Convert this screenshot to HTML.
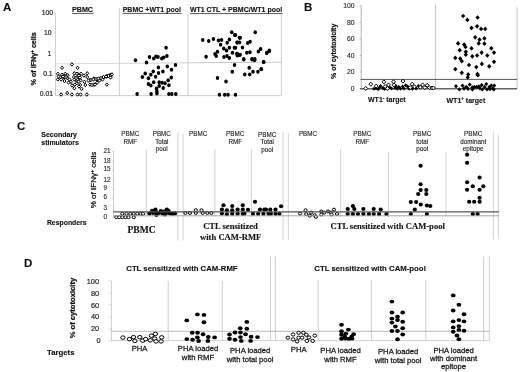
<!DOCTYPE html>
<html><head><meta charset="utf-8"><style>
html,body{margin:0;padding:0;background:#fff;}
body{width:520px;height:372px;overflow:hidden;font-family:"Liberation Sans", sans-serif;}
svg{display:block;filter:blur(0.3px);}
</style></head><body>
<svg width="520" height="372" viewBox="0 0 520 372">
<rect width="520" height="372" fill="#fff"/>
<text x="3" y="10.7" font-size="11.5" font-weight="bold" font-family='"Liberation Sans", sans-serif' text-anchor="start" fill="#111" stroke="#111" stroke-width="0.12">A</text>
<text x="0" y="0" transform="translate(33.6,58.8) rotate(-90)" dy="2.52" font-size="7.2" font-weight="bold" font-family='"Liberation Sans", sans-serif' text-anchor="middle" fill="#111" textLength="53.3" lengthAdjust="spacingAndGlyphs" stroke="#111" stroke-width="0.25">% of IFN&#947;<tspan font-size="4.5" dy="-2.5">+</tspan><tspan dy="2.5"> cells</tspan></text>
<line x1="55.5" y1="13" x2="55.5" y2="95.6" stroke="#cccccc" stroke-width="0.9"/>
<text x="53" y="14.9" font-size="6.8" font-weight="normal" font-family='"Liberation Sans", sans-serif' text-anchor="end" fill="#2a2a2a" stroke="#2a2a2a" stroke-width="0.2">100</text>
<line x1="54" y1="12.5" x2="55.5" y2="12.5" stroke="#c8c8c8" stroke-width="0.7"/>
<text x="51.6" y="35.3" font-size="6.8" font-weight="normal" font-family='"Liberation Sans", sans-serif' text-anchor="end" fill="#2a2a2a" stroke="#2a2a2a" stroke-width="0.2">10</text>
<line x1="54" y1="33.0" x2="55.5" y2="33.0" stroke="#c8c8c8" stroke-width="0.7"/>
<text x="51.4" y="55.7" font-size="6.8" font-weight="normal" font-family='"Liberation Sans", sans-serif' text-anchor="end" fill="#2a2a2a" stroke="#2a2a2a" stroke-width="0.2">1</text>
<line x1="54" y1="53.5" x2="55.5" y2="53.5" stroke="#c8c8c8" stroke-width="0.7"/>
<text x="52.6" y="75.9" font-size="6.8" font-weight="normal" font-family='"Liberation Sans", sans-serif' text-anchor="end" fill="#2a2a2a" stroke="#2a2a2a" stroke-width="0.2">0.1</text>
<line x1="54" y1="73.6" x2="55.5" y2="73.6" stroke="#c8c8c8" stroke-width="0.7"/>
<text x="53" y="96.2" font-size="6.8" font-weight="normal" font-family='"Liberation Sans", sans-serif' text-anchor="end" fill="#2a2a2a" stroke="#2a2a2a" stroke-width="0.2">0.01</text>
<line x1="54" y1="94.0" x2="55.5" y2="94.0" stroke="#c8c8c8" stroke-width="0.7"/>
<line x1="119.4" y1="8" x2="119.4" y2="95.6" stroke="#cacaca" stroke-width="0.9"/>
<line x1="188.0" y1="14.5" x2="188.0" y2="95.6" stroke="#cacaca" stroke-width="0.9"/>
<line x1="281.4" y1="14.4" x2="281.4" y2="95.6" stroke="#cacaca" stroke-width="0.9"/>
<defs><linearGradient id="thg" x1="0" x2="1" y1="0" y2="0"><stop offset="0" stop-color="#d8d8d8"/><stop offset="1" stop-color="#bcbcbc"/></linearGradient></defs>
<polygon points="55.5,63.45 281.4,61.65 281.4,62.55 55.5,64.35" fill="url(#thg)"/>
<line x1="55.5" y1="95.6" x2="281.4" y2="95.6" stroke="#c8c8c8" stroke-width="0.9"/>
<text x="72.0" y="12.1" font-size="7" font-weight="bold" font-family='"Liberation Sans", sans-serif' text-anchor="start" fill="#111" textLength="21.0" lengthAdjust="spacingAndGlyphs" stroke="#111" stroke-width="0.12">PBMC</text>
<line x1="72.0" y1="13.4" x2="93.5" y2="13.4" stroke="#111" stroke-width="0.7"/>
<text x="122.7" y="12.1" font-size="7" font-weight="bold" font-family='"Liberation Sans", sans-serif' text-anchor="start" fill="#111" textLength="58.3" lengthAdjust="spacingAndGlyphs" stroke="#111" stroke-width="0.12">PBMC +WT1 pool</text>
<line x1="122.7" y1="13.4" x2="181.5" y2="13.4" stroke="#111" stroke-width="0.7"/>
<text x="189.9" y="12.3" font-size="7" font-weight="bold" font-family='"Liberation Sans", sans-serif' text-anchor="start" fill="#111" textLength="92.3" lengthAdjust="spacingAndGlyphs" stroke="#111" stroke-width="0.12">WT1 CTL + PBMC/WT1 pool</text>
<line x1="189.9" y1="13.600000000000001" x2="282.7" y2="13.600000000000001" stroke="#111" stroke-width="0.7"/>
<polygon points="71.9,62.650000000000006 73.35000000000001,64.4 71.9,66.15 70.45,64.4" fill="#fff" stroke="#000" stroke-width="1.0"/>
<polygon points="62.1,66.05 63.550000000000004,67.8 62.1,69.55 60.65,67.8" fill="#fff" stroke="#000" stroke-width="1.0"/>
<polygon points="77.6,66.05 79.05,67.8 77.6,69.55 76.14999999999999,67.8" fill="#fff" stroke="#000" stroke-width="1.0"/>
<polygon points="57.8,72.05 59.25,73.8 57.8,75.55 56.349999999999994,73.8" fill="#fff" stroke="#000" stroke-width="1.0"/>
<polygon points="62.1,72.95 63.550000000000004,74.7 62.1,76.45 60.65,74.7" fill="#fff" stroke="#000" stroke-width="1.0"/>
<polygon points="65.3,72.05 66.75,73.8 65.3,75.55 63.849999999999994,73.8" fill="#fff" stroke="#000" stroke-width="1.0"/>
<polygon points="67.7,73.45 69.15,75.2 67.7,76.95 66.25,75.2" fill="#fff" stroke="#000" stroke-width="1.0"/>
<polygon points="74.3,71.55 75.75,73.3 74.3,75.05 72.85,73.3" fill="#fff" stroke="#000" stroke-width="1.0"/>
<polygon points="77.6,72.05 79.05,73.8 77.6,75.55 76.14999999999999,73.8" fill="#fff" stroke="#000" stroke-width="1.0"/>
<polygon points="57.8,77.65 59.25,79.4 57.8,81.15 56.349999999999994,79.4" fill="#fff" stroke="#000" stroke-width="1.0"/>
<polygon points="61.1,77.65 62.550000000000004,79.4 61.1,81.15 59.65,79.4" fill="#fff" stroke="#000" stroke-width="1.0"/>
<polygon points="63.9,75.75 65.35,77.5 63.9,79.25 62.449999999999996,77.5" fill="#fff" stroke="#000" stroke-width="1.0"/>
<polygon points="67.2,76.25 68.65,78 67.2,79.75 65.75,78" fill="#fff" stroke="#000" stroke-width="1.0"/>
<polygon points="60.2,75.35 61.650000000000006,77.1 60.2,78.85 58.75,77.1" fill="#fff" stroke="#000" stroke-width="1.0"/>
<polygon points="71,80.05 72.45,81.8 71,83.55 69.55,81.8" fill="#fff" stroke="#000" stroke-width="1.0"/>
<polygon points="74.3,77.65 75.75,79.4 74.3,81.15 72.85,79.4" fill="#fff" stroke="#000" stroke-width="1.0"/>
<polygon points="76.6,79.05 78.05,80.8 76.6,82.55 75.14999999999999,80.8" fill="#fff" stroke="#000" stroke-width="1.0"/>
<polygon points="74.8,82.85 76.25,84.6 74.8,86.35 73.35,84.6" fill="#fff" stroke="#000" stroke-width="1.0"/>
<polygon points="74.3,86.55 75.75,88.3 74.3,90.05 72.85,88.3" fill="#fff" stroke="#000" stroke-width="1.0"/>
<polygon points="73.8,75.25 75.25,77 73.8,78.75 72.35,77" fill="#fff" stroke="#000" stroke-width="1.0"/>
<polygon points="77.6,75.75 79.05,77.5 77.6,79.25 76.14999999999999,77.5" fill="#fff" stroke="#000" stroke-width="1.0"/>
<polygon points="61.1,92.75 62.550000000000004,94.5 61.1,96.25 59.65,94.5" fill="#fff" stroke="#000" stroke-width="1.0"/>
<polygon points="67.2,91.25 68.65,93 67.2,94.75 65.75,93" fill="#fff" stroke="#000" stroke-width="1.0"/>
<polygon points="71.9,92.75 73.35000000000001,94.5 71.9,96.25 70.45,94.5" fill="#fff" stroke="#000" stroke-width="1.0"/>
<polygon points="77.6,92.75 79.05,94.5 77.6,96.25 76.14999999999999,94.5" fill="#fff" stroke="#000" stroke-width="1.0"/>
<polygon points="76.9,72.05 78.35000000000001,73.8 76.9,75.55 75.45,73.8" fill="#fff" stroke="#000" stroke-width="1.0"/>
<polygon points="81.1,72.05 82.55,73.8 81.1,75.55 79.64999999999999,73.8" fill="#fff" stroke="#000" stroke-width="1.0"/>
<polygon points="83.9,73.85 85.35000000000001,75.6 83.9,77.35 82.45,75.6" fill="#fff" stroke="#000" stroke-width="1.0"/>
<polygon points="87.2,71.55 88.65,73.3 87.2,75.05 85.75,73.3" fill="#fff" stroke="#000" stroke-width="1.0"/>
<polygon points="87.2,75.25 88.65,77 87.2,78.75 85.75,77" fill="#fff" stroke="#000" stroke-width="1.0"/>
<polygon points="77.4,77.65 78.85000000000001,79.4 77.4,81.15 75.95,79.4" fill="#fff" stroke="#000" stroke-width="1.0"/>
<polygon points="80.6,78.55 82.05,80.3 80.6,82.05 79.14999999999999,80.3" fill="#fff" stroke="#000" stroke-width="1.0"/>
<polygon points="84.4,80.05 85.85000000000001,81.8 84.4,83.55 82.95,81.8" fill="#fff" stroke="#000" stroke-width="1.0"/>
<polygon points="76.9,81.45 78.35000000000001,83.2 76.9,84.95 75.45,83.2" fill="#fff" stroke="#000" stroke-width="1.0"/>
<polygon points="80.2,83.25 81.65,85 80.2,86.75 78.75,85" fill="#fff" stroke="#000" stroke-width="1.0"/>
<polygon points="85.3,83.25 86.75,85 85.3,86.75 83.85,85" fill="#fff" stroke="#000" stroke-width="1.0"/>
<polygon points="81.6,87.05 83.05,88.8 81.6,90.55 80.14999999999999,88.8" fill="#fff" stroke="#000" stroke-width="1.0"/>
<polygon points="90.1,78.15 91.55,79.9 90.1,81.65 88.64999999999999,79.9" fill="#fff" stroke="#000" stroke-width="1.0"/>
<polygon points="90.1,82.85 91.55,84.6 90.1,86.35 88.64999999999999,84.6" fill="#fff" stroke="#000" stroke-width="1.0"/>
<polygon points="93.8,76.75 95.25,78.5 93.8,80.25 92.35,78.5" fill="#fff" stroke="#000" stroke-width="1.0"/>
<polygon points="93.8,82.85 95.25,84.6 93.8,86.35 92.35,84.6" fill="#fff" stroke="#000" stroke-width="1.0"/>
<polygon points="97.1,77.65 98.55,79.4 97.1,81.15 95.64999999999999,79.4" fill="#fff" stroke="#000" stroke-width="1.0"/>
<polygon points="97.1,80.95 98.55,82.7 97.1,84.45 95.64999999999999,82.7" fill="#fff" stroke="#000" stroke-width="1.0"/>
<polygon points="80.6,92.75 82.05,94.5 80.6,96.25 79.14999999999999,94.5" fill="#fff" stroke="#000" stroke-width="1.0"/>
<polygon points="86.8,92.75 88.25,94.5 86.8,96.25 85.35,94.5" fill="#fff" stroke="#000" stroke-width="1.0"/>
<polygon points="100.5,76.75 101.95,78.5 100.5,80.25 99.05,78.5" fill="#fff" stroke="#000" stroke-width="1.0"/>
<polygon points="103.5,75.75 104.95,77.5 103.5,79.25 102.05,77.5" fill="#fff" stroke="#000" stroke-width="1.0"/>
<polygon points="106.5,74.75 107.95,76.5 106.5,78.25 105.05,76.5" fill="#fff" stroke="#000" stroke-width="1.0"/>
<polygon points="109.5,73.75 110.95,75.5 109.5,77.25 108.05,75.5" fill="#fff" stroke="#000" stroke-width="1.0"/>
<polygon points="110.4,73.25 111.85000000000001,75 110.4,76.75 108.95,75" fill="#fff" stroke="#000" stroke-width="1.0"/>
<polygon points="107.5,74.05 108.95,75.8 107.5,77.55 106.05,75.8" fill="#fff" stroke="#000" stroke-width="1.0"/>
<polygon points="106.8,82.85 108.25,84.6 106.8,86.35 105.35,84.6" fill="#fff" stroke="#000" stroke-width="1.0"/>
<polygon points="99.5,78.75 100.95,80.5 99.5,82.25 98.05,80.5" fill="#fff" stroke="#000" stroke-width="1.0"/>
<polygon points="102.5,77.75 103.95,79.5 102.5,81.25 101.05,79.5" fill="#fff" stroke="#000" stroke-width="1.0"/>
<polygon points="64.5,79.25 65.95,81 64.5,82.75 63.05,81" fill="#fff" stroke="#000" stroke-width="1.0"/>
<polygon points="68.5,80.75 69.95,82.5 68.5,84.25 67.05,82.5" fill="#fff" stroke="#000" stroke-width="1.0"/>
<polygon points="58.5,74.75 59.95,76.5 58.5,78.25 57.05,76.5" fill="#fff" stroke="#000" stroke-width="1.0"/>
<polygon points="66,74.25 67.45,76 66,77.75 64.55,76" fill="#fff" stroke="#000" stroke-width="1.0"/>
<polygon points="69.5,77.75 70.95,79.5 69.5,81.25 68.05,79.5" fill="#fff" stroke="#000" stroke-width="1.0"/>
<polygon points="72,83.75 73.45,85.5 72,87.25 70.55,85.5" fill="#fff" stroke="#000" stroke-width="1.0"/>
<polygon points="79,84.75 80.45,86.5 79,88.25 77.55,86.5" fill="#fff" stroke="#000" stroke-width="1.0"/>
<polygon points="63,74.75 64.45,76.5 63,78.25 61.55,76.5" fill="#fff" stroke="#000" stroke-width="1.0"/>
<polygon points="66,75.25 67.45,77 66,78.75 64.55,77" fill="#fff" stroke="#000" stroke-width="1.0"/>
<polygon points="79,73.75 80.45,75.5 79,77.25 77.55,75.5" fill="#fff" stroke="#000" stroke-width="1.0"/>
<polygon points="76,76.25 77.45,78 76,79.75 74.55,78" fill="#fff" stroke="#000" stroke-width="1.0"/>
<polygon points="80,75.75 81.45,77.5 80,79.25 78.55,77.5" fill="#fff" stroke="#000" stroke-width="1.0"/>
<polygon points="78.5,79.75 79.95,81.5 78.5,83.25 77.05,81.5" fill="#fff" stroke="#000" stroke-width="1.0"/>
<polygon points="88.5,78.75 89.95,80.5 88.5,82.25 87.05,80.5" fill="#fff" stroke="#000" stroke-width="1.0"/>
<polygon points="91,78.25 92.45,80 91,81.75 89.55,80" fill="#fff" stroke="#000" stroke-width="1.0"/>
<polygon points="93.5,77.75 94.95,79.5 93.5,81.25 92.05,79.5" fill="#fff" stroke="#000" stroke-width="1.0"/>
<polygon points="96,77.25 97.45,79 96,80.75 94.55,79" fill="#fff" stroke="#000" stroke-width="1.0"/>
<polygon points="98.5,76.75 99.95,78.5 98.5,80.25 97.05,78.5" fill="#fff" stroke="#000" stroke-width="1.0"/>
<polygon points="101,76.25 102.45,78 101,79.75 99.55,78" fill="#fff" stroke="#000" stroke-width="1.0"/>
<polygon points="103.5,75.25 104.95,77 103.5,78.75 102.05,77" fill="#fff" stroke="#000" stroke-width="1.0"/>
<polygon points="106,74.75 107.45,76.5 106,78.25 104.55,76.5" fill="#fff" stroke="#000" stroke-width="1.0"/>
<polygon points="108.5,74.25 109.95,76 108.5,77.75 107.05,76" fill="#fff" stroke="#000" stroke-width="1.0"/>
<polygon points="111,73.75 112.45,75.5 111,77.25 109.55,75.5" fill="#fff" stroke="#000" stroke-width="1.0"/>
<polygon points="112,72.75 113.45,74.5 112,76.25 110.55,74.5" fill="#fff" stroke="#000" stroke-width="1.0"/>
<polygon points="110.5,75.75 111.95,77.5 110.5,79.25 109.05,77.5" fill="#fff" stroke="#000" stroke-width="1.0"/>
<polygon points="92,83.25 93.45,85 92,86.75 90.55,85" fill="#fff" stroke="#000" stroke-width="1.0"/>
<polygon points="95,82.75 96.45,84.5 95,86.25 93.55,84.5" fill="#fff" stroke="#000" stroke-width="1.0"/>
<ellipse cx="166.1" cy="47.7" rx="1.75" ry="2.0" fill="#000"/>
<ellipse cx="135.5" cy="60.2" rx="1.75" ry="2.0" fill="#000"/>
<ellipse cx="149.5" cy="56.9" rx="1.75" ry="2.0" fill="#000"/>
<ellipse cx="153.7" cy="58.5" rx="1.75" ry="2.0" fill="#000"/>
<ellipse cx="156" cy="56.6" rx="1.75" ry="2.0" fill="#000"/>
<ellipse cx="158" cy="56.9" rx="1.75" ry="2.0" fill="#000"/>
<ellipse cx="161.8" cy="58.5" rx="1.75" ry="2.0" fill="#000"/>
<ellipse cx="163.7" cy="57.4" rx="1.75" ry="2.0" fill="#000"/>
<ellipse cx="166.9" cy="56.1" rx="1.75" ry="2.0" fill="#000"/>
<ellipse cx="146.5" cy="62.6" rx="1.75" ry="2.0" fill="#000"/>
<ellipse cx="175.5" cy="65" rx="1.75" ry="2.0" fill="#000"/>
<ellipse cx="167.3" cy="66.6" rx="1.75" ry="2.0" fill="#000"/>
<ellipse cx="158.4" cy="67.4" rx="1.75" ry="2.0" fill="#000"/>
<ellipse cx="171.5" cy="69.8" rx="1.75" ry="2.0" fill="#000"/>
<ellipse cx="153.2" cy="71.5" rx="1.75" ry="2.0" fill="#000"/>
<ellipse cx="145.2" cy="73.5" rx="1.75" ry="2.0" fill="#000"/>
<ellipse cx="150.8" cy="74.7" rx="1.75" ry="2.0" fill="#000"/>
<ellipse cx="158.5" cy="73" rx="1.75" ry="2.0" fill="#000"/>
<ellipse cx="162.9" cy="71.5" rx="1.75" ry="2.0" fill="#000"/>
<ellipse cx="142.4" cy="77.1" rx="1.75" ry="2.0" fill="#000"/>
<ellipse cx="148.4" cy="78.2" rx="1.75" ry="2.0" fill="#000"/>
<ellipse cx="155.6" cy="76.8" rx="1.75" ry="2.0" fill="#000"/>
<ellipse cx="171.3" cy="77.4" rx="1.75" ry="2.0" fill="#000"/>
<ellipse cx="168.2" cy="80.3" rx="1.75" ry="2.0" fill="#000"/>
<ellipse cx="153.7" cy="82.3" rx="1.75" ry="2.0" fill="#000"/>
<ellipse cx="159.2" cy="82.3" rx="1.75" ry="2.0" fill="#000"/>
<ellipse cx="162.1" cy="82.7" rx="1.75" ry="2.0" fill="#000"/>
<ellipse cx="165" cy="83.2" rx="1.75" ry="2.0" fill="#000"/>
<ellipse cx="148.4" cy="83.9" rx="1.75" ry="2.0" fill="#000"/>
<ellipse cx="150.8" cy="85.5" rx="1.75" ry="2.0" fill="#000"/>
<ellipse cx="159.2" cy="86" rx="1.75" ry="2.0" fill="#000"/>
<ellipse cx="168.9" cy="85.2" rx="1.75" ry="2.0" fill="#000"/>
<ellipse cx="163.2" cy="87.9" rx="1.75" ry="2.0" fill="#000"/>
<ellipse cx="156.5" cy="88.4" rx="1.75" ry="2.0" fill="#000"/>
<ellipse cx="156.9" cy="91.3" rx="1.75" ry="2.0" fill="#000"/>
<ellipse cx="156.9" cy="93.5" rx="1.75" ry="2.0" fill="#000"/>
<ellipse cx="137.1" cy="94" rx="1.75" ry="2.0" fill="#000"/>
<ellipse cx="151.1" cy="94" rx="1.75" ry="2.0" fill="#000"/>
<ellipse cx="168.9" cy="94" rx="1.75" ry="2.0" fill="#000"/>
<ellipse cx="171.8" cy="94" rx="1.75" ry="2.0" fill="#000"/>
<ellipse cx="175.8" cy="94" rx="1.75" ry="2.0" fill="#000"/>
<ellipse cx="202.7" cy="39.9" rx="1.75" ry="2.0" fill="#000"/>
<ellipse cx="208.7" cy="41" rx="1.75" ry="2.0" fill="#000"/>
<ellipse cx="213.4" cy="39.1" rx="1.75" ry="2.0" fill="#000"/>
<ellipse cx="218.5" cy="40.5" rx="1.75" ry="2.0" fill="#000"/>
<ellipse cx="221.6" cy="39.9" rx="1.75" ry="2.0" fill="#000"/>
<ellipse cx="220.6" cy="44.8" rx="1.75" ry="2.0" fill="#000"/>
<ellipse cx="231.7" cy="32.3" rx="1.75" ry="2.0" fill="#000"/>
<ellipse cx="234.7" cy="34.9" rx="1.75" ry="2.0" fill="#000"/>
<ellipse cx="229.4" cy="39.6" rx="1.75" ry="2.0" fill="#000"/>
<ellipse cx="227.2" cy="42.7" rx="1.75" ry="2.0" fill="#000"/>
<ellipse cx="223.7" cy="48.5" rx="1.75" ry="2.0" fill="#000"/>
<ellipse cx="226.5" cy="50.6" rx="1.75" ry="2.0" fill="#000"/>
<ellipse cx="229.4" cy="47.8" rx="1.75" ry="2.0" fill="#000"/>
<ellipse cx="234.4" cy="47.8" rx="1.75" ry="2.0" fill="#000"/>
<ellipse cx="232.5" cy="52.8" rx="1.75" ry="2.0" fill="#000"/>
<ellipse cx="217.4" cy="51.8" rx="1.75" ry="2.0" fill="#000"/>
<ellipse cx="215" cy="54" rx="1.75" ry="2.0" fill="#000"/>
<ellipse cx="216.2" cy="56.1" rx="1.75" ry="2.0" fill="#000"/>
<ellipse cx="206.1" cy="56.8" rx="1.75" ry="2.0" fill="#000"/>
<ellipse cx="224" cy="57" rx="1.75" ry="2.0" fill="#000"/>
<ellipse cx="227" cy="56.1" rx="1.75" ry="2.0" fill="#000"/>
<ellipse cx="229.4" cy="58" rx="1.75" ry="2.0" fill="#000"/>
<ellipse cx="237.4" cy="42.4" rx="1.75" ry="2.0" fill="#000"/>
<ellipse cx="239.3" cy="37.7" rx="1.75" ry="2.0" fill="#000"/>
<ellipse cx="236.9" cy="53.7" rx="1.75" ry="2.0" fill="#000"/>
<ellipse cx="239.3" cy="55.1" rx="1.75" ry="2.0" fill="#000"/>
<ellipse cx="255.2" cy="32.3" rx="1.75" ry="2.0" fill="#000"/>
<ellipse cx="235.5" cy="34.9" rx="1.75" ry="2.0" fill="#000"/>
<ellipse cx="240.2" cy="37.7" rx="1.75" ry="2.0" fill="#000"/>
<ellipse cx="237.1" cy="42.4" rx="1.75" ry="2.0" fill="#000"/>
<ellipse cx="239.5" cy="42.4" rx="1.75" ry="2.0" fill="#000"/>
<ellipse cx="247.7" cy="43.1" rx="1.75" ry="2.0" fill="#000"/>
<ellipse cx="250.1" cy="41.8" rx="1.75" ry="2.0" fill="#000"/>
<ellipse cx="242.5" cy="47.4" rx="1.75" ry="2.0" fill="#000"/>
<ellipse cx="235.5" cy="47.8" rx="1.75" ry="2.0" fill="#000"/>
<ellipse cx="258.4" cy="51.4" rx="1.75" ry="2.0" fill="#000"/>
<ellipse cx="260.6" cy="49" rx="1.75" ry="2.0" fill="#000"/>
<ellipse cx="266.8" cy="52.8" rx="1.75" ry="2.0" fill="#000"/>
<ellipse cx="269.4" cy="50.6" rx="1.75" ry="2.0" fill="#000"/>
<ellipse cx="246.8" cy="52.8" rx="1.75" ry="2.0" fill="#000"/>
<ellipse cx="249.9" cy="52.3" rx="1.75" ry="2.0" fill="#000"/>
<ellipse cx="237.1" cy="53.7" rx="1.75" ry="2.0" fill="#000"/>
<ellipse cx="240.2" cy="54.7" rx="1.75" ry="2.0" fill="#000"/>
<ellipse cx="237.4" cy="55.6" rx="1.75" ry="2.0" fill="#000"/>
<ellipse cx="243.7" cy="58.9" rx="1.75" ry="2.0" fill="#000"/>
<ellipse cx="252" cy="58.9" rx="1.75" ry="2.0" fill="#000"/>
<ellipse cx="254.8" cy="58.9" rx="1.75" ry="2.0" fill="#000"/>
<ellipse cx="243.7" cy="59.6" rx="1.75" ry="2.0" fill="#000"/>
<ellipse cx="252.2" cy="59.6" rx="1.75" ry="2.0" fill="#000"/>
<ellipse cx="254.6" cy="60.2" rx="1.75" ry="2.0" fill="#000"/>
<ellipse cx="263.6" cy="61.9" rx="1.75" ry="2.0" fill="#000"/>
<ellipse cx="234.5" cy="65.1" rx="1.75" ry="2.0" fill="#000"/>
<ellipse cx="232.3" cy="71.7" rx="1.75" ry="2.0" fill="#000"/>
<ellipse cx="249.2" cy="67.7" rx="1.75" ry="2.0" fill="#000"/>
<ellipse cx="261.2" cy="68.9" rx="1.75" ry="2.0" fill="#000"/>
<ellipse cx="257.9" cy="71.7" rx="1.75" ry="2.0" fill="#000"/>
<ellipse cx="253" cy="71.7" rx="1.75" ry="2.0" fill="#000"/>
<ellipse cx="249.7" cy="74.6" rx="1.75" ry="2.0" fill="#000"/>
<ellipse cx="244.8" cy="74.6" rx="1.75" ry="2.0" fill="#000"/>
<ellipse cx="217.5" cy="77.9" rx="1.75" ry="2.0" fill="#000"/>
<ellipse cx="226" cy="81.5" rx="1.75" ry="2.0" fill="#000"/>
<ellipse cx="219.5" cy="94.7" rx="1.75" ry="2.0" fill="#000"/>
<ellipse cx="224.7" cy="94.7" rx="1.75" ry="2.0" fill="#000"/>
<ellipse cx="228" cy="94.7" rx="1.75" ry="2.0" fill="#000"/>
<ellipse cx="235.5" cy="94.7" rx="1.75" ry="2.0" fill="#000"/>
<ellipse cx="263.7" cy="62.1" rx="1.75" ry="2.0" fill="#000"/>
<ellipse cx="266.7" cy="53" rx="1.75" ry="2.0" fill="#000"/>
<ellipse cx="269.1" cy="51.3" rx="1.75" ry="2.0" fill="#000"/>
<ellipse cx="261.3" cy="69.2" rx="1.75" ry="2.0" fill="#000"/>
<text x="304" y="11.0" font-size="11.5" font-weight="bold" font-family='"Liberation Sans", sans-serif' text-anchor="start" fill="#111" stroke="#111" stroke-width="0.12">B</text>
<text x="0" y="0" transform="translate(333.8,51.3) rotate(-90)" dy="2.52" font-size="7.2" font-weight="bold" font-family='"Liberation Sans", sans-serif' text-anchor="middle" fill="#111" textLength="55.2" lengthAdjust="spacingAndGlyphs" stroke="#111" stroke-width="0.25">% of cytotoxicity</text>
<line x1="361.2" y1="6" x2="361.2" y2="88.8" stroke="#aaa" stroke-width="0.9"/>
<text x="354.6" y="90.8" font-size="6.8" font-weight="normal" font-family='"Liberation Sans", sans-serif' text-anchor="end" fill="#333" stroke="#333" stroke-width="0.15">0</text>
<line x1="359.6" y1="88.5" x2="361.2" y2="88.5" stroke="#999" stroke-width="0.7"/>
<text x="354.6" y="74.24" font-size="6.8" font-weight="normal" font-family='"Liberation Sans", sans-serif' text-anchor="end" fill="#333" stroke="#333" stroke-width="0.15">20</text>
<line x1="359.6" y1="71.94" x2="361.2" y2="71.94" stroke="#999" stroke-width="0.7"/>
<text x="354.6" y="57.68" font-size="6.8" font-weight="normal" font-family='"Liberation Sans", sans-serif' text-anchor="end" fill="#333" stroke="#333" stroke-width="0.15">40</text>
<line x1="359.6" y1="55.38" x2="361.2" y2="55.38" stroke="#999" stroke-width="0.7"/>
<text x="354.6" y="41.120000000000005" font-size="6.8" font-weight="normal" font-family='"Liberation Sans", sans-serif' text-anchor="end" fill="#333" stroke="#333" stroke-width="0.15">60</text>
<line x1="359.6" y1="38.82000000000001" x2="361.2" y2="38.82000000000001" stroke="#999" stroke-width="0.7"/>
<text x="354.6" y="24.560000000000006" font-size="6.8" font-weight="normal" font-family='"Liberation Sans", sans-serif' text-anchor="end" fill="#333" stroke="#333" stroke-width="0.15">80</text>
<line x1="359.6" y1="22.260000000000005" x2="361.2" y2="22.260000000000005" stroke="#999" stroke-width="0.7"/>
<text x="354.6" y="8.000000000000004" font-size="6.8" font-weight="normal" font-family='"Liberation Sans", sans-serif' text-anchor="end" fill="#333" stroke="#333" stroke-width="0.15">100</text>
<line x1="359.6" y1="5.700000000000003" x2="361.2" y2="5.700000000000003" stroke="#999" stroke-width="0.7"/>
<line x1="435.4" y1="4.8" x2="435.4" y2="88.8" stroke="#bdbdbd" stroke-width="0.9"/>
<line x1="517.1" y1="7.3" x2="517.1" y2="88.8" stroke="#bdbdbd" stroke-width="0.9"/>
<line x1="360.5" y1="79.4" x2="517.1" y2="79.4" stroke="#555" stroke-width="1.0"/>
<line x1="360.0" y1="88.8" x2="517.1" y2="88.8" stroke="#666" stroke-width="1.5"/>
<text x="368" y="102" font-size="7" font-weight="bold" font-family='"Liberation Sans", sans-serif' text-anchor="start" fill="#111" stroke="#111" stroke-width="0.12">WT1<tspan font-size="4.5" dy="-2.5">-</tspan><tspan dy="2.5"> target</tspan></text>
<text x="446.5" y="102.5" font-size="7" font-weight="bold" font-family='"Liberation Sans", sans-serif' text-anchor="start" fill="#111" stroke="#111" stroke-width="0.12">WT1<tspan font-size="4.5" dy="-2.5">+</tspan><tspan dy="2.5"> target</tspan></text>
<polygon points="373.9,86.8 375.7,88.8 373.9,90.8 372.09999999999997,88.8" fill="#000"/>
<polygon points="378.2,87.2 380.0,89.2 378.2,91.2 376.4,89.2" fill="#000"/>
<polygon points="380.5,84.1 382.3,86.1 380.5,88.1 378.7,86.1" fill="#000"/>
<polygon points="382.8,86.0 384.6,88 382.8,90.0 381.0,88" fill="#000"/>
<polygon points="391.6,86.4 393.40000000000003,88.4 391.6,90.4 389.8,88.4" fill="#000"/>
<polygon points="395.1,86.0 396.90000000000003,88 395.1,90.0 393.3,88" fill="#000"/>
<polygon points="397.4,86.8 399.2,88.8 397.4,90.8 395.59999999999997,88.8" fill="#000"/>
<polygon points="400.5,86.8 402.3,88.8 400.5,90.8 398.7,88.8" fill="#000"/>
<polygon points="399.5,85.6 401.3,87.6 399.5,89.6 397.7,87.6" fill="#000"/>
<polygon points="402.6,84.5 404.40000000000003,86.5 402.6,88.5 400.8,86.5" fill="#000"/>
<polygon points="405.7,83.3 407.5,85.3 405.7,87.3 403.9,85.3" fill="#000"/>
<polygon points="407.6,84.5 409.40000000000003,86.5 407.6,88.5 405.8,86.5" fill="#000"/>
<polygon points="416.1,86.4 417.90000000000003,88.4 416.1,90.4 414.3,88.4" fill="#000"/>
<polygon points="418.4,84.1 420.2,86.1 418.4,88.1 416.59999999999997,86.1" fill="#000"/>
<polygon points="376,86.2 377.8,88.2 376,90.2 374.2,88.2" fill="#000"/>
<polygon points="384.5,87.0 386.3,89 384.5,91.0 382.7,89" fill="#000"/>
<polygon points="389.5,85.2 391.3,87.2 389.5,89.2 387.7,87.2" fill="#000"/>
<polygon points="396,84.3 397.8,86.3 396,88.3 394.2,86.3" fill="#000"/>
<polygon points="398.5,85.0 400.3,87 398.5,89.0 396.7,87" fill="#000"/>
<polygon points="404,86.6 405.8,88.6 404,90.6 402.2,88.6" fill="#000"/>
<polygon points="409,86.6 410.8,88.6 409,90.6 407.2,88.6" fill="#000"/>
<polygon points="412.5,86.8 414.3,88.8 412.5,90.8 410.7,88.8" fill="#000"/>
<polygon points="386,85.5 387.8,87.5 386,89.5 384.2,87.5" fill="#000"/>
<polygon points="379.5,85.5 381.3,87.5 379.5,89.5 377.7,87.5" fill="#000"/>
<polygon points="365.8,86.4 367.7,88.4 365.8,90.4 363.90000000000003,88.4" fill="#fff" stroke="#000" stroke-width="1.0"/>
<polygon points="370.8,82.2 372.7,84.2 370.8,86.2 368.90000000000003,84.2" fill="#fff" stroke="#000" stroke-width="1.0"/>
<polygon points="376.2,84.1 378.09999999999997,86.1 376.2,88.1 374.3,86.1" fill="#fff" stroke="#000" stroke-width="1.0"/>
<polygon points="383.9,79.8 385.79999999999995,81.8 383.9,83.8 382.0,81.8" fill="#fff" stroke="#000" stroke-width="1.0"/>
<polygon points="393.5,79.8 395.4,81.8 393.5,83.8 391.6,81.8" fill="#fff" stroke="#000" stroke-width="1.0"/>
<polygon points="388.5,82.9 390.4,84.9 388.5,86.9 386.6,84.9" fill="#fff" stroke="#000" stroke-width="1.0"/>
<polygon points="387.4,86.4 389.29999999999995,88.4 387.4,90.4 385.5,88.4" fill="#fff" stroke="#000" stroke-width="1.0"/>
<polygon points="385.1,84.5 387.0,86.5 385.1,88.5 383.20000000000005,86.5" fill="#fff" stroke="#000" stroke-width="1.0"/>
<polygon points="393.9,82.9 395.79999999999995,84.9 393.9,86.9 392.0,84.9" fill="#fff" stroke="#000" stroke-width="1.0"/>
<polygon points="403,79.1 404.9,81.1 403,83.1 401.1,81.1" fill="#fff" stroke="#000" stroke-width="1.0"/>
<polygon points="410.3,85.6 412.2,87.6 410.3,89.6 408.40000000000003,87.6" fill="#fff" stroke="#000" stroke-width="1.0"/>
<polygon points="412.2,82.2 414.09999999999997,84.2 412.2,86.2 410.3,84.2" fill="#fff" stroke="#000" stroke-width="1.0"/>
<polygon points="414.5,84.8 416.4,86.8 414.5,88.8 412.6,86.8" fill="#fff" stroke="#000" stroke-width="1.0"/>
<polygon points="420.3,85.2 422.2,87.2 420.3,89.2 418.40000000000003,87.2" fill="#fff" stroke="#000" stroke-width="1.0"/>
<polygon points="422.6,82.9 424.5,84.9 422.6,86.9 420.70000000000005,84.9" fill="#fff" stroke="#000" stroke-width="1.0"/>
<polygon points="424.9,85.6 426.79999999999995,87.6 424.9,89.6 423.0,87.6" fill="#fff" stroke="#000" stroke-width="1.0"/>
<polygon points="427.2,83.3 429.09999999999997,85.3 427.2,87.3 425.3,85.3" fill="#fff" stroke="#000" stroke-width="1.0"/>
<polygon points="429.5,85.6 431.4,87.6 429.5,89.6 427.6,87.6" fill="#fff" stroke="#000" stroke-width="1.0"/>
<polygon points="431.8,86.0 433.7,88 431.8,90.0 429.90000000000003,88" fill="#fff" stroke="#000" stroke-width="1.0"/>
<polygon points="433.4,86.0 435.29999999999995,88 433.4,90.0 431.5,88" fill="#fff" stroke="#000" stroke-width="1.0"/>
<polygon points="463.1,13.65 465.25,16.0 463.1,18.35 460.95000000000005,16.0" fill="#000"/>
<polygon points="467.4,17.549999999999997 469.54999999999995,19.9 467.4,22.25 465.25,19.9" fill="#000"/>
<polygon points="477.6,15.15 479.75,17.5 477.6,19.85 475.45000000000005,17.5" fill="#000"/>
<polygon points="471.5,25.549999999999997 473.65,27.9 471.5,30.25 469.35,27.9" fill="#000"/>
<polygon points="477.1,23.95 479.25,26.3 477.1,28.650000000000002 474.95000000000005,26.3" fill="#000"/>
<polygon points="481.1,26.549999999999997 483.25,28.9 481.1,31.25 478.95000000000005,28.9" fill="#000"/>
<polygon points="485.2,26.549999999999997 487.34999999999997,28.9 485.2,31.25 483.05,28.9" fill="#000"/>
<polygon points="475.2,34.95 477.34999999999997,37.300000000000004 475.2,39.650000000000006 473.05,37.300000000000004" fill="#000"/>
<polygon points="479.5,37.35 481.65,39.7 479.5,42.050000000000004 477.35,39.7" fill="#000"/>
<polygon points="484.4,36.050000000000004 486.54999999999995,38.400000000000006 484.4,40.75000000000001 482.25,38.400000000000006" fill="#000"/>
<polygon points="478.7,41.050000000000004 480.84999999999997,43.400000000000006 478.7,45.75000000000001 476.55,43.400000000000006" fill="#000"/>
<polygon points="484.4,41.35 486.54999999999995,43.7 484.4,46.050000000000004 482.25,43.7" fill="#000"/>
<polygon points="458.1,41.050000000000004 460.25,43.400000000000006 458.1,45.75000000000001 455.95000000000005,43.400000000000006" fill="#000"/>
<polygon points="464.2,42.25 466.34999999999997,44.6 464.2,46.95 462.05,44.6" fill="#000"/>
<polygon points="465.5,44.65 467.65,47.0 465.5,49.35 463.35,47.0" fill="#000"/>
<polygon points="471.5,45.95 473.65,48.300000000000004 471.5,50.650000000000006 469.35,48.300000000000004" fill="#000"/>
<polygon points="459.7,47.85 461.84999999999997,50.2 459.7,52.550000000000004 457.55,50.2" fill="#000"/>
<polygon points="465.8,49.45 467.95,51.800000000000004 465.8,54.150000000000006 463.65000000000003,51.800000000000004" fill="#000"/>
<polygon points="465.8,52.35 467.95,54.7 465.8,57.050000000000004 463.65000000000003,54.7" fill="#000"/>
<polygon points="491.3,45.95 493.45,48.300000000000004 491.3,50.650000000000006 489.15000000000003,48.300000000000004" fill="#000"/>
<polygon points="494,50.25 496.15,52.6 494,54.95 491.85,52.6" fill="#000"/>
<polygon points="481.6,50.25 483.75,52.6 481.6,54.95 479.45000000000005,52.6" fill="#000"/>
<polygon points="472.3,53.95 474.45,56.300000000000004 472.3,58.650000000000006 470.15000000000003,56.300000000000004" fill="#000"/>
<polygon points="477.1,53.15 479.25,55.5 477.1,57.85 474.95000000000005,55.5" fill="#000"/>
<polygon points="487.3,53.15 489.45,55.5 487.3,57.85 485.15000000000003,55.5" fill="#000"/>
<polygon points="455.3,55.550000000000004 457.45,57.900000000000006 455.3,60.25000000000001 453.15000000000003,57.900000000000006" fill="#000"/>
<polygon points="460.2,56.25 462.34999999999997,58.6 460.2,60.95 458.05,58.6" fill="#000"/>
<polygon points="461.8,58.85 463.95,61.2 461.8,63.550000000000004 459.65000000000003,61.2" fill="#000"/>
<polygon points="469,62.65 471.15,65.0 469,67.35 466.85,65.0" fill="#000"/>
<polygon points="476.3,64.75000000000001 478.45,67.10000000000001 476.3,69.45 474.15000000000003,67.10000000000001" fill="#000"/>
<polygon points="481.9,61.550000000000004 484.04999999999995,63.900000000000006 481.9,66.25 479.75,63.900000000000006" fill="#000"/>
<polygon points="489.2,63.949999999999996 491.34999999999997,66.3 489.2,68.64999999999999 487.05,66.3" fill="#000"/>
<polygon points="494,59.45 496.15,61.800000000000004 494,64.15 491.85,61.800000000000004" fill="#000"/>
<polygon points="455.3,66.85000000000001 457.45,69.2 455.3,71.55 453.15000000000003,69.2" fill="#000"/>
<polygon points="461.8,70.45 463.95,72.8 461.8,75.14999999999999 459.65000000000003,72.8" fill="#000"/>
<polygon points="468.2,72.05000000000001 470.34999999999997,74.4 468.2,76.75 466.05,74.4" fill="#000"/>
<polygon points="467.7,74.95 469.84999999999997,77.3 467.7,79.64999999999999 465.55,77.3" fill="#000"/>
<polygon points="477.4,71.75000000000001 479.54999999999995,74.10000000000001 477.4,76.45 475.25,74.10000000000001" fill="#000"/>
<polygon points="477.9,72.85000000000001 480.04999999999995,75.2 477.9,77.55 475.75,75.2" fill="#000"/>
<polygon points="456,84.1 458.0,86.3 456,88.5 454.0,86.3" fill="#000"/>
<polygon points="459.4,87.2 461.4,89.4 459.4,91.60000000000001 457.4,89.4" fill="#000"/>
<polygon points="462.5,83.39999999999999 464.5,85.6 462.5,87.8 460.5,85.6" fill="#000"/>
<polygon points="466.3,84.8 468.3,87 466.3,89.2 464.3,87" fill="#000"/>
<polygon points="469.7,82.39999999999999 471.7,84.6 469.7,86.8 467.7,84.6" fill="#000"/>
<polygon points="472.3,85.3 474.3,87.5 472.3,89.7 470.3,87.5" fill="#000"/>
<polygon points="472.3,87.2 474.3,89.4 472.3,91.60000000000001 470.3,89.4" fill="#000"/>
<polygon points="474.5,84.8 476.5,87 474.5,89.2 472.5,87" fill="#000"/>
<polygon points="476.9,84.8 478.9,87 476.9,89.2 474.9,87" fill="#000"/>
<polygon points="478.8,84.3 480.8,86.5 478.8,88.7 476.8,86.5" fill="#000"/>
<polygon points="481.7,82.89999999999999 483.7,85.1 481.7,87.3 479.7,85.1" fill="#000"/>
<polygon points="482.2,87.2 484.2,89.4 482.2,91.60000000000001 480.2,89.4" fill="#000"/>
<polygon points="484.6,84.8 486.6,87 484.6,89.2 482.6,87" fill="#000"/>
<polygon points="486.3,81.89999999999999 488.3,84.1 486.3,86.3 484.3,84.1" fill="#000"/>
<polygon points="487,87.2 489.0,89.4 487,91.60000000000001 485.0,89.4" fill="#000"/>
<polygon points="489.4,84.8 491.4,87 489.4,89.2 487.4,87" fill="#000"/>
<polygon points="491.3,83.39999999999999 493.3,85.6 491.3,87.8 489.3,85.6" fill="#000"/>
<polygon points="492.8,86.3 494.8,88.5 492.8,90.7 490.8,88.5" fill="#000"/>
<polygon points="494.2,83.39999999999999 496.2,85.6 494.2,87.8 492.2,85.6" fill="#000"/>
<polygon points="493.8,87.2 495.8,89.4 493.8,91.60000000000001 491.8,89.4" fill="#000"/>
<polygon points="464,86.3 466.0,88.5 464,90.7 462.0,88.5" fill="#000"/>
<polygon points="468,86.6 470.0,88.8 468,91.0 466.0,88.8" fill="#000"/>
<polygon points="480,86.0 482.0,88.2 480,90.4 478.0,88.2" fill="#000"/>
<polygon points="490,86.8 492.0,89 490,91.2 488.0,89" fill="#000"/>
<text x="17" y="130" font-size="11.5" font-weight="bold" font-family='"Liberation Sans", sans-serif' text-anchor="start" fill="#111" stroke="#111" stroke-width="0.12">C</text>
<text x="41.3" y="137.2" font-size="7" font-weight="bold" font-family='"Liberation Sans", sans-serif' text-anchor="start" fill="#111" textLength="35.7" lengthAdjust="spacingAndGlyphs" stroke="#111" stroke-width="0.12">Secondary</text>
<text x="41.3" y="144.8" font-size="7" font-weight="bold" font-family='"Liberation Sans", sans-serif' text-anchor="start" fill="#111" textLength="37.5" lengthAdjust="spacingAndGlyphs" stroke="#111" stroke-width="0.12">stimulators</text>
<text x="0" y="0" transform="translate(93.8,180.0) rotate(-90)" dy="2.45" font-size="7" font-weight="normal" font-family='"Liberation Sans", sans-serif' text-anchor="middle" fill="#111" textLength="56.5" lengthAdjust="spacingAndGlyphs" stroke="#111" stroke-width="0.25">% of IFN&#947;<tspan font-size="4.5" dy="-2.5">+</tspan><tspan dy="2.5"> cells</tspan></text>
<line x1="113.5" y1="151.2" x2="113.5" y2="217.3" stroke="#c8c8c8" stroke-width="0.9"/>
<text x="103.6" y="219.0" font-size="6.3" font-weight="normal" font-family='"Liberation Sans", sans-serif' text-anchor="start" fill="#333" stroke="#333" stroke-width="0.15">0</text>
<line x1="112" y1="217.2" x2="113.5" y2="217.2" stroke="#c8c8c8" stroke-width="0.7"/>
<text x="103.6" y="210.39999999999998" font-size="6.3" font-weight="normal" font-family='"Liberation Sans", sans-serif' text-anchor="start" fill="#333" stroke="#333" stroke-width="0.15">3</text>
<line x1="112" y1="207.82999999999998" x2="113.5" y2="207.82999999999998" stroke="#c8c8c8" stroke-width="0.7"/>
<text x="103.6" y="199.39999999999998" font-size="6.3" font-weight="normal" font-family='"Liberation Sans", sans-serif' text-anchor="start" fill="#333" stroke="#333" stroke-width="0.15">6</text>
<line x1="112" y1="198.45999999999998" x2="113.5" y2="198.45999999999998" stroke="#c8c8c8" stroke-width="0.7"/>
<text x="103.6" y="189.79999999999998" font-size="6.3" font-weight="normal" font-family='"Liberation Sans", sans-serif' text-anchor="start" fill="#333" stroke="#333" stroke-width="0.15">9</text>
<line x1="112" y1="189.08999999999997" x2="113.5" y2="189.08999999999997" stroke="#c8c8c8" stroke-width="0.7"/>
<text x="103.6" y="181.89999999999998" font-size="6.3" font-weight="normal" font-family='"Liberation Sans", sans-serif' text-anchor="start" fill="#333" stroke="#333" stroke-width="0.15">12</text>
<line x1="112" y1="179.72" x2="113.5" y2="179.72" stroke="#c8c8c8" stroke-width="0.7"/>
<text x="103.6" y="171.39999999999998" font-size="6.3" font-weight="normal" font-family='"Liberation Sans", sans-serif' text-anchor="start" fill="#333" stroke="#333" stroke-width="0.15">15</text>
<line x1="112" y1="170.35" x2="113.5" y2="170.35" stroke="#c8c8c8" stroke-width="0.7"/>
<text x="103.6" y="162.7" font-size="6.3" font-weight="normal" font-family='"Liberation Sans", sans-serif' text-anchor="start" fill="#333" stroke="#333" stroke-width="0.15">18</text>
<line x1="112" y1="160.98" x2="113.5" y2="160.98" stroke="#c8c8c8" stroke-width="0.7"/>
<text x="103.6" y="153.2" font-size="6.3" font-weight="normal" font-family='"Liberation Sans", sans-serif' text-anchor="start" fill="#333" stroke="#333" stroke-width="0.15">21</text>
<line x1="112" y1="151.61" x2="113.5" y2="151.61" stroke="#c8c8c8" stroke-width="0.7"/>
<line x1="146.3" y1="149.4" x2="146.3" y2="217" stroke="#cecece" stroke-width="0.9"/>
<line x1="177.9" y1="132.3" x2="177.9" y2="240.5" stroke="#cecece" stroke-width="0.9"/>
<line x1="183.1" y1="133.8" x2="183.1" y2="240.5" stroke="#cecece" stroke-width="0.9"/>
<line x1="214.9" y1="149.2" x2="214.9" y2="217" stroke="#cecece" stroke-width="0.9"/>
<line x1="251.4" y1="149.2" x2="251.4" y2="217" stroke="#cecece" stroke-width="0.9"/>
<line x1="283.1" y1="132.3" x2="283.1" y2="240" stroke="#cecece" stroke-width="0.9"/>
<line x1="288.3" y1="133.5" x2="288.3" y2="240" stroke="#cecece" stroke-width="0.9"/>
<line x1="340.6" y1="149.2" x2="340.6" y2="217" stroke="#cecece" stroke-width="0.9"/>
<line x1="388.5" y1="152.3" x2="388.5" y2="217" stroke="#cecece" stroke-width="0.9"/>
<line x1="446" y1="152" x2="446" y2="217" stroke="#cecece" stroke-width="0.9"/>
<line x1="493.4" y1="132.7" x2="493.4" y2="239.3" stroke="#cecece" stroke-width="0.9"/>
<line x1="498.4" y1="134.5" x2="498.4" y2="239.3" stroke="#cecece" stroke-width="0.9"/>
<text x="130.3" y="136.0" font-size="6.3" font-weight="normal" font-family='"Liberation Sans", sans-serif' text-anchor="middle" fill="#222" stroke="#222" stroke-width="0.12">PBMC</text>
<text x="130.3" y="143.5" font-size="6.3" font-weight="normal" font-family='"Liberation Sans", sans-serif' text-anchor="middle" fill="#222" stroke="#222" stroke-width="0.12">RMF</text>
<text x="161.8" y="136.0" font-size="6.3" font-weight="normal" font-family='"Liberation Sans", sans-serif' text-anchor="middle" fill="#222" stroke="#222" stroke-width="0.12">PBMC</text>
<text x="161.8" y="143.5" font-size="6.3" font-weight="normal" font-family='"Liberation Sans", sans-serif' text-anchor="middle" fill="#222" stroke="#222" stroke-width="0.12">Total</text>
<text x="161.8" y="151.0" font-size="6.3" font-weight="normal" font-family='"Liberation Sans", sans-serif' text-anchor="middle" fill="#222" stroke="#222" stroke-width="0.12">pool</text>
<text x="198.2" y="136.0" font-size="6.3" font-weight="normal" font-family='"Liberation Sans", sans-serif' text-anchor="middle" fill="#222" stroke="#222" stroke-width="0.12">PBMC</text>
<text x="235.2" y="136.0" font-size="6.3" font-weight="normal" font-family='"Liberation Sans", sans-serif' text-anchor="middle" fill="#222" stroke="#222" stroke-width="0.12">PBMC</text>
<text x="235.2" y="143.5" font-size="6.3" font-weight="normal" font-family='"Liberation Sans", sans-serif' text-anchor="middle" fill="#222" stroke="#222" stroke-width="0.12">RMF</text>
<text x="267.2" y="136.6" font-size="6.3" font-weight="normal" font-family='"Liberation Sans", sans-serif' text-anchor="middle" fill="#222" stroke="#222" stroke-width="0.12">PBMC</text>
<text x="267.2" y="144.1" font-size="6.3" font-weight="normal" font-family='"Liberation Sans", sans-serif' text-anchor="middle" fill="#222" stroke="#222" stroke-width="0.12">Total</text>
<text x="267.2" y="151.6" font-size="6.3" font-weight="normal" font-family='"Liberation Sans", sans-serif' text-anchor="middle" fill="#222" stroke="#222" stroke-width="0.12">pool</text>
<text x="308" y="136.0" font-size="6.3" font-weight="normal" font-family='"Liberation Sans", sans-serif' text-anchor="middle" fill="#222" stroke="#222" stroke-width="0.12">PBMC</text>
<text x="362.3" y="136.0" font-size="6.3" font-weight="normal" font-family='"Liberation Sans", sans-serif' text-anchor="middle" fill="#222" stroke="#222" stroke-width="0.12">PBMC</text>
<text x="362.3" y="143.5" font-size="6.3" font-weight="normal" font-family='"Liberation Sans", sans-serif' text-anchor="middle" fill="#222" stroke="#222" stroke-width="0.12">RMF</text>
<text x="422.2" y="136.0" font-size="6.3" font-weight="normal" font-family='"Liberation Sans", sans-serif' text-anchor="middle" fill="#222" stroke="#222" stroke-width="0.12">PBMC</text>
<text x="422.2" y="143.5" font-size="6.3" font-weight="normal" font-family='"Liberation Sans", sans-serif' text-anchor="middle" fill="#222" stroke="#222" stroke-width="0.12">total</text>
<text x="422.2" y="151.0" font-size="6.3" font-weight="normal" font-family='"Liberation Sans", sans-serif' text-anchor="middle" fill="#222" stroke="#222" stroke-width="0.12">pool</text>
<text x="473.2" y="136.0" font-size="6.3" font-weight="normal" font-family='"Liberation Sans", sans-serif' text-anchor="middle" fill="#222" stroke="#222" stroke-width="0.12">PBMC</text>
<text x="473.2" y="143.5" font-size="6.3" font-weight="normal" font-family='"Liberation Sans", sans-serif' text-anchor="middle" fill="#222" stroke="#222" stroke-width="0.12">dominant</text>
<text x="473.2" y="151.0" font-size="6.3" font-weight="normal" font-family='"Liberation Sans", sans-serif' text-anchor="middle" fill="#222" stroke="#222" stroke-width="0.12">epitope</text>
<text x="46.9" y="224.5" font-size="7" font-weight="bold" font-family='"Liberation Sans", sans-serif' text-anchor="start" fill="#111" textLength="39.7" lengthAdjust="spacingAndGlyphs" stroke="#111" stroke-width="0.12">Responders</text>
<text x="141.5" y="233.2" font-size="9.6" font-weight="bold" font-family='"Liberation Serif", serif' text-anchor="middle" fill="#111" stroke="#111" stroke-width="0.12">PBMC</text>
<text x="230.5" y="229.0" font-size="8.6" font-weight="bold" font-family='"Liberation Serif", serif' text-anchor="middle" fill="#111" stroke="#111" stroke-width="0.12">CTL sensitized</text>
<text x="230.7" y="239.5" font-size="8.6" font-weight="bold" font-family='"Liberation Serif", serif' text-anchor="middle" fill="#111" stroke="#111" stroke-width="0.12">with CAM-RMF</text>
<text x="387.7" y="228.8" font-size="8.6" font-weight="bold" font-family='"Liberation Serif", serif' text-anchor="middle" fill="#111" stroke="#111" stroke-width="0.12">CTL sensitized with CAM-pool</text>
<ellipse cx="122.3" cy="213.8" rx="1.6" ry="1.45" fill="#fff" stroke="#000" stroke-width="1.0"/>
<ellipse cx="126.5" cy="213.8" rx="1.6" ry="1.45" fill="#fff" stroke="#000" stroke-width="1.0"/>
<ellipse cx="130.4" cy="213.8" rx="1.6" ry="1.45" fill="#fff" stroke="#000" stroke-width="1.0"/>
<ellipse cx="133.8" cy="213.8" rx="1.6" ry="1.45" fill="#fff" stroke="#000" stroke-width="1.0"/>
<ellipse cx="137.3" cy="213.8" rx="1.6" ry="1.45" fill="#fff" stroke="#000" stroke-width="1.0"/>
<ellipse cx="140.8" cy="213.8" rx="1.6" ry="1.45" fill="#fff" stroke="#000" stroke-width="1.0"/>
<ellipse cx="143.1" cy="213.8" rx="1.6" ry="1.45" fill="#fff" stroke="#000" stroke-width="1.0"/>
<ellipse cx="116.2" cy="217.2" rx="1.6" ry="1.45" fill="#fff" stroke="#000" stroke-width="1.0"/>
<ellipse cx="119.2" cy="217.2" rx="1.6" ry="1.45" fill="#fff" stroke="#000" stroke-width="1.0"/>
<ellipse cx="122.3" cy="217.2" rx="1.6" ry="1.45" fill="#fff" stroke="#000" stroke-width="1.0"/>
<ellipse cx="125.4" cy="217.2" rx="1.6" ry="1.45" fill="#fff" stroke="#000" stroke-width="1.0"/>
<ellipse cx="128.5" cy="217.2" rx="1.6" ry="1.45" fill="#fff" stroke="#000" stroke-width="1.0"/>
<ellipse cx="133.8" cy="217.2" rx="1.6" ry="1.45" fill="#fff" stroke="#000" stroke-width="1.0"/>
<ellipse cx="195.8" cy="210.2" rx="1.6" ry="1.45" fill="#fff" stroke="#000" stroke-width="1.0"/>
<ellipse cx="201.5" cy="210.2" rx="1.6" ry="1.45" fill="#fff" stroke="#000" stroke-width="1.0"/>
<ellipse cx="185.4" cy="213" rx="1.6" ry="1.45" fill="#fff" stroke="#000" stroke-width="1.0"/>
<ellipse cx="190" cy="213" rx="1.6" ry="1.45" fill="#fff" stroke="#000" stroke-width="1.0"/>
<ellipse cx="195.8" cy="213" rx="1.6" ry="1.45" fill="#fff" stroke="#000" stroke-width="1.0"/>
<ellipse cx="202.7" cy="213" rx="1.6" ry="1.45" fill="#fff" stroke="#000" stroke-width="1.0"/>
<ellipse cx="207.3" cy="213" rx="1.6" ry="1.45" fill="#fff" stroke="#000" stroke-width="1.0"/>
<ellipse cx="211.3" cy="213" rx="1.6" ry="1.45" fill="#fff" stroke="#000" stroke-width="1.0"/>
<ellipse cx="300.1" cy="213.6" rx="1.6" ry="1.45" fill="#fff" stroke="#000" stroke-width="1.0"/>
<ellipse cx="305.6" cy="210.2" rx="1.6" ry="1.45" fill="#fff" stroke="#000" stroke-width="1.0"/>
<ellipse cx="306.2" cy="214.1" rx="1.6" ry="1.45" fill="#fff" stroke="#000" stroke-width="1.0"/>
<ellipse cx="309.8" cy="215.7" rx="1.6" ry="1.45" fill="#fff" stroke="#000" stroke-width="1.0"/>
<ellipse cx="311" cy="212.6" rx="1.6" ry="1.45" fill="#fff" stroke="#000" stroke-width="1.0"/>
<ellipse cx="314.6" cy="215.1" rx="1.6" ry="1.45" fill="#fff" stroke="#000" stroke-width="1.0"/>
<ellipse cx="315.8" cy="216.9" rx="1.6" ry="1.45" fill="#fff" stroke="#000" stroke-width="1.0"/>
<ellipse cx="321.3" cy="211.4" rx="1.6" ry="1.45" fill="#fff" stroke="#000" stroke-width="1.0"/>
<ellipse cx="321.3" cy="214.5" rx="1.6" ry="1.45" fill="#fff" stroke="#000" stroke-width="1.0"/>
<ellipse cx="324.3" cy="212.6" rx="1.6" ry="1.45" fill="#fff" stroke="#000" stroke-width="1.0"/>
<ellipse cx="327.9" cy="211.4" rx="1.6" ry="1.45" fill="#fff" stroke="#000" stroke-width="1.0"/>
<ellipse cx="331" cy="212.6" rx="1.6" ry="1.45" fill="#fff" stroke="#000" stroke-width="1.0"/>
<ellipse cx="334" cy="209.6" rx="1.6" ry="1.45" fill="#fff" stroke="#000" stroke-width="1.0"/>
<ellipse cx="337" cy="213.9" rx="1.6" ry="1.45" fill="#fff" stroke="#000" stroke-width="1.0"/>
<ellipse cx="331.6" cy="214.5" rx="1.6" ry="1.45" fill="#fff" stroke="#000" stroke-width="1.0"/>
<ellipse cx="149.4" cy="213.5" rx="2.1" ry="2.0" fill="#000"/>
<ellipse cx="152.1" cy="210.8" rx="2.1" ry="2.0" fill="#000"/>
<ellipse cx="153.1" cy="213.1" rx="2.1" ry="2.0" fill="#000"/>
<ellipse cx="155.4" cy="209.4" rx="2.1" ry="2.0" fill="#000"/>
<ellipse cx="156.1" cy="212.1" rx="2.1" ry="2.0" fill="#000"/>
<ellipse cx="156.4" cy="215.1" rx="2.1" ry="2.0" fill="#000"/>
<ellipse cx="158.8" cy="213.1" rx="2.1" ry="2.0" fill="#000"/>
<ellipse cx="160.8" cy="211.1" rx="2.1" ry="2.0" fill="#000"/>
<ellipse cx="162.5" cy="213.5" rx="2.1" ry="2.0" fill="#000"/>
<ellipse cx="164.2" cy="211.4" rx="2.1" ry="2.0" fill="#000"/>
<ellipse cx="164.9" cy="214.5" rx="2.1" ry="2.0" fill="#000"/>
<ellipse cx="166.9" cy="209.4" rx="2.1" ry="2.0" fill="#000"/>
<ellipse cx="167.9" cy="212.8" rx="2.1" ry="2.0" fill="#000"/>
<ellipse cx="170.2" cy="213.5" rx="2.1" ry="2.0" fill="#000"/>
<ellipse cx="172.6" cy="213.8" rx="2.1" ry="2.0" fill="#000"/>
<ellipse cx="175" cy="213.5" rx="2.1" ry="2.0" fill="#000"/>
<ellipse cx="168.6" cy="211.1" rx="2.1" ry="2.0" fill="#000"/>
<ellipse cx="221.9" cy="209.4" rx="2.1" ry="2.0" fill="#000"/>
<ellipse cx="221.9" cy="213.4" rx="2.1" ry="2.0" fill="#000"/>
<ellipse cx="223.5" cy="205.3" rx="2.1" ry="2.0" fill="#000"/>
<ellipse cx="226.9" cy="210.2" rx="2.1" ry="2.0" fill="#000"/>
<ellipse cx="226.9" cy="214.2" rx="2.1" ry="2.0" fill="#000"/>
<ellipse cx="232.2" cy="206.1" rx="2.1" ry="2.0" fill="#000"/>
<ellipse cx="232.2" cy="210.2" rx="2.1" ry="2.0" fill="#000"/>
<ellipse cx="232.2" cy="213.8" rx="2.1" ry="2.0" fill="#000"/>
<ellipse cx="237.6" cy="209.4" rx="2.1" ry="2.0" fill="#000"/>
<ellipse cx="237.6" cy="213.8" rx="2.1" ry="2.0" fill="#000"/>
<ellipse cx="242.8" cy="205.3" rx="2.1" ry="2.0" fill="#000"/>
<ellipse cx="242.8" cy="209.4" rx="2.1" ry="2.0" fill="#000"/>
<ellipse cx="242.8" cy="213.8" rx="2.1" ry="2.0" fill="#000"/>
<ellipse cx="244.4" cy="213.4" rx="2.1" ry="2.0" fill="#000"/>
<ellipse cx="248" cy="209.8" rx="2.1" ry="2.0" fill="#000"/>
<ellipse cx="255" cy="201.7" rx="2.1" ry="2.0" fill="#000"/>
<ellipse cx="281.1" cy="206.3" rx="2.1" ry="2.0" fill="#000"/>
<ellipse cx="260" cy="209.5" rx="2.1" ry="2.0" fill="#000"/>
<ellipse cx="264.3" cy="209.5" rx="2.1" ry="2.0" fill="#000"/>
<ellipse cx="266" cy="209.5" rx="2.1" ry="2.0" fill="#000"/>
<ellipse cx="270.3" cy="209.5" rx="2.1" ry="2.0" fill="#000"/>
<ellipse cx="275.5" cy="209.5" rx="2.1" ry="2.0" fill="#000"/>
<ellipse cx="253" cy="213.8" rx="2.1" ry="2.0" fill="#000"/>
<ellipse cx="258.2" cy="213.8" rx="2.1" ry="2.0" fill="#000"/>
<ellipse cx="263.4" cy="213.8" rx="2.1" ry="2.0" fill="#000"/>
<ellipse cx="268.6" cy="213.8" rx="2.1" ry="2.0" fill="#000"/>
<ellipse cx="270.8" cy="213.8" rx="2.1" ry="2.0" fill="#000"/>
<ellipse cx="275.5" cy="213.8" rx="2.1" ry="2.0" fill="#000"/>
<ellipse cx="279.4" cy="213.8" rx="2.1" ry="2.0" fill="#000"/>
<ellipse cx="352.9" cy="206" rx="2.1" ry="2.0" fill="#000"/>
<ellipse cx="347.7" cy="209" rx="2.1" ry="2.0" fill="#000"/>
<ellipse cx="354.3" cy="209" rx="2.1" ry="2.0" fill="#000"/>
<ellipse cx="363.4" cy="209" rx="2.1" ry="2.0" fill="#000"/>
<ellipse cx="373.7" cy="209" rx="2.1" ry="2.0" fill="#000"/>
<ellipse cx="380.7" cy="209.6" rx="2.1" ry="2.0" fill="#000"/>
<ellipse cx="347.7" cy="213.9" rx="2.1" ry="2.0" fill="#000"/>
<ellipse cx="352.9" cy="213.9" rx="2.1" ry="2.0" fill="#000"/>
<ellipse cx="358" cy="213.9" rx="2.1" ry="2.0" fill="#000"/>
<ellipse cx="363.4" cy="213.9" rx="2.1" ry="2.0" fill="#000"/>
<ellipse cx="368.9" cy="213.9" rx="2.1" ry="2.0" fill="#000"/>
<ellipse cx="373.7" cy="213.9" rx="2.1" ry="2.0" fill="#000"/>
<ellipse cx="379.1" cy="213.9" rx="2.1" ry="2.0" fill="#000"/>
<ellipse cx="386.4" cy="213.9" rx="2.1" ry="2.0" fill="#000"/>
<ellipse cx="420.6" cy="165.7" rx="2.1" ry="2.0" fill="#000"/>
<ellipse cx="420.6" cy="184.2" rx="2.1" ry="2.0" fill="#000"/>
<ellipse cx="420.6" cy="189.9" rx="2.1" ry="2.0" fill="#000"/>
<ellipse cx="426.3" cy="189.9" rx="2.1" ry="2.0" fill="#000"/>
<ellipse cx="418.2" cy="193.9" rx="2.1" ry="2.0" fill="#000"/>
<ellipse cx="426.3" cy="193.9" rx="2.1" ry="2.0" fill="#000"/>
<ellipse cx="410.8" cy="202" rx="2.1" ry="2.0" fill="#000"/>
<ellipse cx="416.2" cy="202" rx="2.1" ry="2.0" fill="#000"/>
<ellipse cx="420.8" cy="204.4" rx="2.1" ry="2.0" fill="#000"/>
<ellipse cx="426.9" cy="205.4" rx="2.1" ry="2.0" fill="#000"/>
<ellipse cx="430.3" cy="206" rx="2.1" ry="2.0" fill="#000"/>
<ellipse cx="414.8" cy="209.4" rx="2.1" ry="2.0" fill="#000"/>
<ellipse cx="410.8" cy="214" rx="2.1" ry="2.0" fill="#000"/>
<ellipse cx="426.9" cy="214" rx="2.1" ry="2.0" fill="#000"/>
<ellipse cx="467.1" cy="154.7" rx="2.1" ry="2.0" fill="#000"/>
<ellipse cx="467.1" cy="162.7" rx="2.1" ry="2.0" fill="#000"/>
<ellipse cx="479.6" cy="177.6" rx="2.1" ry="2.0" fill="#000"/>
<ellipse cx="467.1" cy="182.2" rx="2.1" ry="2.0" fill="#000"/>
<ellipse cx="472.8" cy="186.3" rx="2.1" ry="2.0" fill="#000"/>
<ellipse cx="483.3" cy="186.3" rx="2.1" ry="2.0" fill="#000"/>
<ellipse cx="467.1" cy="189.7" rx="2.1" ry="2.0" fill="#000"/>
<ellipse cx="479.6" cy="189.7" rx="2.1" ry="2.0" fill="#000"/>
<ellipse cx="479.6" cy="197.7" rx="2.1" ry="2.0" fill="#000"/>
<ellipse cx="469.2" cy="201.8" rx="2.1" ry="2.0" fill="#000"/>
<ellipse cx="474.2" cy="201.8" rx="2.1" ry="2.0" fill="#000"/>
<ellipse cx="479.6" cy="201.8" rx="2.1" ry="2.0" fill="#000"/>
<ellipse cx="472.8" cy="213.9" rx="2.1" ry="2.0" fill="#000"/>
<ellipse cx="477.6" cy="213.9" rx="2.1" ry="2.0" fill="#000"/>
<line x1="113.5" y1="211.9" x2="498.9" y2="211.9" stroke="#555" stroke-width="1.1"/>
<line x1="113.5" y1="215.8" x2="498.9" y2="215.8" stroke="#999" stroke-width="0.9"/>
<text x="24" y="267.2" font-size="11.5" font-weight="bold" font-family='"Liberation Sans", sans-serif' text-anchor="start" fill="#111" stroke="#111" stroke-width="0.12">D</text>
<text x="126.3" y="271.4" font-size="7.8" font-weight="bold" font-family='"Liberation Sans", sans-serif' text-anchor="start" fill="#111" textLength="111.3" lengthAdjust="spacingAndGlyphs" stroke="#111" stroke-width="0.12">CTL sensitized with CAM-RMF</text>
<text x="314.3" y="271.0" font-size="7.9" font-weight="bold" font-family='"Liberation Sans", sans-serif' text-anchor="start" fill="#111" textLength="111.5" lengthAdjust="spacingAndGlyphs" stroke="#111" stroke-width="0.12">CTL sensitized with CAM-pool</text>
<text x="0" y="0" transform="translate(72.3,308.1) rotate(-90)" dy="2.66" font-size="7.6" font-weight="bold" font-family='"Liberation Sans", sans-serif' text-anchor="middle" fill="#111" textLength="60.5" lengthAdjust="spacingAndGlyphs" stroke="#111" stroke-width="0.25">% of cytotoxicity</text>
<line x1="111.4" y1="280.8" x2="111.4" y2="341" stroke="#c8c8c8" stroke-width="0.9"/>
<text x="100.5" y="343.15" font-size="7.4" font-weight="normal" font-family='"Liberation Sans", sans-serif' text-anchor="end" fill="#2a2a2a" stroke="#2a2a2a" stroke-width="0.2">0</text>
<line x1="108.6" y1="341.0" x2="111.4" y2="341.0" stroke="#c4c4c4" stroke-width="0.7"/>
<text x="99.2" y="331.25" font-size="7.4" font-weight="normal" font-family='"Liberation Sans", sans-serif' text-anchor="end" fill="#2a2a2a" stroke="#2a2a2a" stroke-width="0.2">20</text>
<line x1="108.6" y1="328.96" x2="111.4" y2="328.96" stroke="#c4c4c4" stroke-width="0.7"/>
<text x="99.2" y="319.04999999999995" font-size="7.4" font-weight="normal" font-family='"Liberation Sans", sans-serif' text-anchor="end" fill="#2a2a2a" stroke="#2a2a2a" stroke-width="0.2">40</text>
<line x1="108.6" y1="316.92" x2="111.4" y2="316.92" stroke="#c4c4c4" stroke-width="0.7"/>
<text x="99.2" y="307.54999999999995" font-size="7.4" font-weight="normal" font-family='"Liberation Sans", sans-serif' text-anchor="end" fill="#2a2a2a" stroke="#2a2a2a" stroke-width="0.2">60</text>
<line x1="108.6" y1="304.88" x2="111.4" y2="304.88" stroke="#c4c4c4" stroke-width="0.7"/>
<text x="99.2" y="295.65" font-size="7.4" font-weight="normal" font-family='"Liberation Sans", sans-serif' text-anchor="end" fill="#2a2a2a" stroke="#2a2a2a" stroke-width="0.2">80</text>
<line x1="108.6" y1="292.84000000000003" x2="111.4" y2="292.84000000000003" stroke="#c4c4c4" stroke-width="0.7"/>
<text x="99.0" y="284.34999999999997" font-size="7.4" font-weight="normal" font-family='"Liberation Sans", sans-serif' text-anchor="end" fill="#2a2a2a" stroke="#2a2a2a" stroke-width="0.2">100</text>
<line x1="108.6" y1="280.8" x2="111.4" y2="280.8" stroke="#c4c4c4" stroke-width="0.7"/>
<line x1="168.2" y1="281" x2="168.2" y2="341" stroke="#cbcbcb" stroke-width="0.9"/>
<line x1="222.3" y1="281" x2="222.3" y2="341" stroke="#cbcbcb" stroke-width="0.9"/>
<line x1="270.5" y1="256.5" x2="270.5" y2="341" stroke="#cbcbcb" stroke-width="0.9"/>
<line x1="275.4" y1="256.5" x2="275.4" y2="341" stroke="#cbcbcb" stroke-width="0.9"/>
<line x1="318.2" y1="280" x2="318.2" y2="341" stroke="#cbcbcb" stroke-width="0.9"/>
<line x1="371.4" y1="280" x2="371.4" y2="341" stroke="#cbcbcb" stroke-width="0.9"/>
<line x1="425.8" y1="280" x2="425.8" y2="341" stroke="#cbcbcb" stroke-width="0.9"/>
<line x1="483.6" y1="256.5" x2="483.6" y2="341.2" stroke="#cbcbcb" stroke-width="0.9"/>
<line x1="489.3" y1="256" x2="489.3" y2="340.5" stroke="#cbcbcb" stroke-width="0.9"/>
<line x1="111.4" y1="331.3" x2="489.5" y2="331.3" stroke="#b4b4b4" stroke-width="0.9"/>
<line x1="111.4" y1="340.6" x2="489.5" y2="340.6" stroke="#d0d0d0" stroke-width="1.0"/>
<text x="47" y="355.3" font-size="7" font-weight="bold" font-family='"Liberation Sans", sans-serif' text-anchor="start" fill="#111" textLength="27.5" lengthAdjust="spacingAndGlyphs" stroke="#111" stroke-width="0.12">Targets</text>
<text x="139.5" y="351.3" font-size="7.65" font-weight="normal" font-family='"Liberation Sans", sans-serif' text-anchor="middle" fill="#1a1a1a" stroke="#1a1a1a" stroke-width="0.28">PHA</text>
<text x="198.0" y="351.1" font-size="7.65" font-weight="normal" font-family='"Liberation Sans", sans-serif' text-anchor="middle" fill="#1a1a1a" stroke="#1a1a1a" stroke-width="0.28">PHA loaded</text>
<text x="198.0" y="360.3" font-size="7.65" font-weight="normal" font-family='"Liberation Sans", sans-serif' text-anchor="middle" fill="#1a1a1a" stroke="#1a1a1a" stroke-width="0.28">with RMF</text>
<text x="250.2" y="353.1" font-size="7.65" font-weight="normal" font-family='"Liberation Sans", sans-serif' text-anchor="middle" fill="#1a1a1a" stroke="#1a1a1a" stroke-width="0.28">PHA loaded</text>
<text x="250.2" y="362.3" font-size="7.65" font-weight="normal" font-family='"Liberation Sans", sans-serif' text-anchor="middle" fill="#1a1a1a" stroke="#1a1a1a" stroke-width="0.28">with total pool</text>
<text x="298.7" y="351.5" font-size="7.65" font-weight="normal" font-family='"Liberation Sans", sans-serif' text-anchor="middle" fill="#1a1a1a" stroke="#1a1a1a" stroke-width="0.28">PHA</text>
<text x="340.5" y="353.1" font-size="7.65" font-weight="normal" font-family='"Liberation Sans", sans-serif' text-anchor="middle" fill="#1a1a1a" stroke="#1a1a1a" stroke-width="0.28">PHA loaded</text>
<text x="340.5" y="362.4" font-size="7.65" font-weight="normal" font-family='"Liberation Sans", sans-serif' text-anchor="middle" fill="#1a1a1a" stroke="#1a1a1a" stroke-width="0.28">with RMF</text>
<text x="398.2" y="353.6" font-size="7.65" font-weight="normal" font-family='"Liberation Sans", sans-serif' text-anchor="middle" fill="#1a1a1a" stroke="#1a1a1a" stroke-width="0.28">PHA loaded</text>
<text x="398.2" y="362.7" font-size="7.65" font-weight="normal" font-family='"Liberation Sans", sans-serif' text-anchor="middle" fill="#1a1a1a" stroke="#1a1a1a" stroke-width="0.28">with total pool</text>
<text x="453.6" y="352.5" font-size="7.65" font-weight="normal" font-family='"Liberation Sans", sans-serif' text-anchor="middle" fill="#1a1a1a" stroke="#1a1a1a" stroke-width="0.28">PHA loaded</text>
<text x="453.6" y="360.9" font-size="7.65" font-weight="normal" font-family='"Liberation Sans", sans-serif' text-anchor="middle" fill="#1a1a1a" stroke="#1a1a1a" stroke-width="0.28">with dominant</text>
<text x="453.6" y="368.6" font-size="7.65" font-weight="normal" font-family='"Liberation Sans", sans-serif' text-anchor="middle" fill="#1a1a1a" stroke="#1a1a1a" stroke-width="0.28">epitope</text>
<ellipse cx="122.9" cy="337.6" rx="2.2" ry="1.75" fill="#fff" stroke="#000" stroke-width="1.0"/>
<ellipse cx="129.4" cy="339.1" rx="2.2" ry="1.75" fill="#fff" stroke="#000" stroke-width="1.0"/>
<ellipse cx="133.5" cy="337.20000000000005" rx="2.2" ry="1.75" fill="#fff" stroke="#000" stroke-width="1.0"/>
<ellipse cx="134.9" cy="340.90000000000003" rx="2.2" ry="1.75" fill="#fff" stroke="#000" stroke-width="1.0"/>
<ellipse cx="139.8" cy="337.20000000000005" rx="2.2" ry="1.75" fill="#fff" stroke="#000" stroke-width="1.0"/>
<ellipse cx="142.70000000000002" cy="340.6" rx="2.2" ry="1.75" fill="#fff" stroke="#000" stroke-width="1.0"/>
<ellipse cx="145.6" cy="339.1" rx="2.2" ry="1.75" fill="#fff" stroke="#000" stroke-width="1.0"/>
<ellipse cx="150.20000000000002" cy="340.3" rx="2.2" ry="1.75" fill="#fff" stroke="#000" stroke-width="1.0"/>
<ellipse cx="151.4" cy="335.70000000000005" rx="2.2" ry="1.75" fill="#fff" stroke="#000" stroke-width="1.0"/>
<ellipse cx="155.4" cy="333.90000000000003" rx="2.2" ry="1.75" fill="#fff" stroke="#000" stroke-width="1.0"/>
<ellipse cx="154.8" cy="338.6" rx="2.2" ry="1.75" fill="#fff" stroke="#000" stroke-width="1.0"/>
<ellipse cx="156.0" cy="341.40000000000003" rx="2.2" ry="1.75" fill="#fff" stroke="#000" stroke-width="1.0"/>
<ellipse cx="161.1" cy="341.40000000000003" rx="2.2" ry="1.75" fill="#fff" stroke="#000" stroke-width="1.0"/>
<ellipse cx="161.70000000000002" cy="337.40000000000003" rx="2.2" ry="1.75" fill="#fff" stroke="#000" stroke-width="1.0"/>
<ellipse cx="287.9" cy="337.7" rx="1.8" ry="1.6" fill="#fff" stroke="#000" stroke-width="1.0"/>
<ellipse cx="293.1" cy="334.5" rx="1.8" ry="1.6" fill="#fff" stroke="#000" stroke-width="1.0"/>
<ellipse cx="293.1" cy="339.4" rx="1.8" ry="1.6" fill="#fff" stroke="#000" stroke-width="1.0"/>
<ellipse cx="298.6" cy="332.8" rx="1.8" ry="1.6" fill="#fff" stroke="#000" stroke-width="1.0"/>
<ellipse cx="298.6" cy="337.7" rx="1.8" ry="1.6" fill="#fff" stroke="#000" stroke-width="1.0"/>
<ellipse cx="297.1" cy="341.4" rx="1.8" ry="1.6" fill="#fff" stroke="#000" stroke-width="1.0"/>
<ellipse cx="302.1" cy="337.7" rx="1.8" ry="1.6" fill="#fff" stroke="#000" stroke-width="1.0"/>
<ellipse cx="303.4" cy="332.8" rx="1.8" ry="1.6" fill="#fff" stroke="#000" stroke-width="1.0"/>
<ellipse cx="306.3" cy="334.8" rx="1.8" ry="1.6" fill="#fff" stroke="#000" stroke-width="1.0"/>
<ellipse cx="309" cy="337.5" rx="1.8" ry="1.6" fill="#fff" stroke="#000" stroke-width="1.0"/>
<ellipse cx="306.9" cy="340.9" rx="1.8" ry="1.6" fill="#fff" stroke="#000" stroke-width="1.0"/>
<ellipse cx="312.7" cy="340.9" rx="1.8" ry="1.6" fill="#fff" stroke="#000" stroke-width="1.0"/>
<ellipse cx="314.8" cy="335.6" rx="1.8" ry="1.6" fill="#fff" stroke="#000" stroke-width="1.0"/>
<ellipse cx="197.4" cy="314.4" rx="2.35" ry="1.95" fill="#000"/>
<ellipse cx="203.9" cy="314.9" rx="2.35" ry="1.95" fill="#000"/>
<ellipse cx="186.8" cy="320.4" rx="2.35" ry="1.95" fill="#000"/>
<ellipse cx="203.9" cy="322.2" rx="2.35" ry="1.95" fill="#000"/>
<ellipse cx="192.2" cy="332.8" rx="2.35" ry="1.95" fill="#000"/>
<ellipse cx="197.6" cy="332.8" rx="2.35" ry="1.95" fill="#000"/>
<ellipse cx="203.1" cy="334.3" rx="2.35" ry="1.95" fill="#000"/>
<ellipse cx="197.4" cy="337.4" rx="2.35" ry="1.95" fill="#000"/>
<ellipse cx="208.3" cy="337" rx="2.35" ry="1.95" fill="#000"/>
<ellipse cx="214.6" cy="337.4" rx="2.35" ry="1.95" fill="#000"/>
<ellipse cx="186.8" cy="339.1" rx="2.35" ry="1.95" fill="#000"/>
<ellipse cx="192.6" cy="339.8" rx="2.35" ry="1.95" fill="#000"/>
<ellipse cx="198.6" cy="341" rx="2.35" ry="1.95" fill="#000"/>
<ellipse cx="207.9" cy="341" rx="2.35" ry="1.95" fill="#000"/>
<ellipse cx="246.8" cy="321.9" rx="2.35" ry="1.95" fill="#000"/>
<ellipse cx="240.2" cy="328.2" rx="2.35" ry="1.95" fill="#000"/>
<ellipse cx="246.8" cy="328.7" rx="2.35" ry="1.95" fill="#000"/>
<ellipse cx="235" cy="332.5" rx="2.35" ry="1.95" fill="#000"/>
<ellipse cx="240.5" cy="332.5" rx="2.35" ry="1.95" fill="#000"/>
<ellipse cx="229.5" cy="334.5" rx="2.35" ry="1.95" fill="#000"/>
<ellipse cx="245.6" cy="334.2" rx="2.35" ry="1.95" fill="#000"/>
<ellipse cx="240.5" cy="337.1" rx="2.35" ry="1.95" fill="#000"/>
<ellipse cx="251.1" cy="336.8" rx="2.35" ry="1.95" fill="#000"/>
<ellipse cx="257.5" cy="337.1" rx="2.35" ry="1.95" fill="#000"/>
<ellipse cx="229.5" cy="338.8" rx="2.35" ry="1.95" fill="#000"/>
<ellipse cx="235" cy="339.8" rx="2.35" ry="1.95" fill="#000"/>
<ellipse cx="241.3" cy="340.9" rx="2.35" ry="1.95" fill="#000"/>
<ellipse cx="250.6" cy="340.9" rx="2.35" ry="1.95" fill="#000"/>
<ellipse cx="341.5" cy="324.8" rx="2.35" ry="1.95" fill="#000"/>
<ellipse cx="348.4" cy="329.6" rx="2.35" ry="1.95" fill="#000"/>
<ellipse cx="341.5" cy="331.3" rx="2.35" ry="1.95" fill="#000"/>
<ellipse cx="341.5" cy="334.8" rx="2.35" ry="1.95" fill="#000"/>
<ellipse cx="345.9" cy="333.6" rx="2.35" ry="1.95" fill="#000"/>
<ellipse cx="353.6" cy="334.2" rx="2.35" ry="1.95" fill="#000"/>
<ellipse cx="341.5" cy="338.8" rx="2.35" ry="1.95" fill="#000"/>
<ellipse cx="345.2" cy="338.6" rx="2.35" ry="1.95" fill="#000"/>
<ellipse cx="349" cy="338.8" rx="2.35" ry="1.95" fill="#000"/>
<ellipse cx="352.1" cy="338.6" rx="2.35" ry="1.95" fill="#000"/>
<ellipse cx="344.8" cy="336.8" rx="2.35" ry="1.95" fill="#000"/>
<ellipse cx="351.7" cy="336.8" rx="2.35" ry="1.95" fill="#000"/>
<ellipse cx="391.9" cy="301.6" rx="2.35" ry="1.95" fill="#000"/>
<ellipse cx="391.9" cy="312.5" rx="2.35" ry="1.95" fill="#000"/>
<ellipse cx="402.7" cy="312.5" rx="2.35" ry="1.95" fill="#000"/>
<ellipse cx="397.5" cy="316.8" rx="2.35" ry="1.95" fill="#000"/>
<ellipse cx="391.9" cy="318.6" rx="2.35" ry="1.95" fill="#000"/>
<ellipse cx="397.5" cy="320" rx="2.35" ry="1.95" fill="#000"/>
<ellipse cx="391.9" cy="322.6" rx="2.35" ry="1.95" fill="#000"/>
<ellipse cx="402.7" cy="321.7" rx="2.35" ry="1.95" fill="#000"/>
<ellipse cx="395.4" cy="326.5" rx="2.35" ry="1.95" fill="#000"/>
<ellipse cx="402.7" cy="328.2" rx="2.35" ry="1.95" fill="#000"/>
<ellipse cx="391.9" cy="331" rx="2.35" ry="1.95" fill="#000"/>
<ellipse cx="397.5" cy="331" rx="2.35" ry="1.95" fill="#000"/>
<ellipse cx="402.7" cy="334.5" rx="2.35" ry="1.95" fill="#000"/>
<ellipse cx="397.5" cy="339.2" rx="2.35" ry="1.95" fill="#000"/>
<ellipse cx="453.2" cy="295.4" rx="2.35" ry="1.95" fill="#000"/>
<ellipse cx="458.9" cy="304.8" rx="2.35" ry="1.95" fill="#000"/>
<ellipse cx="453.2" cy="310.5" rx="2.35" ry="1.95" fill="#000"/>
<ellipse cx="464" cy="314.2" rx="2.35" ry="1.95" fill="#000"/>
<ellipse cx="453.2" cy="321.4" rx="2.35" ry="1.95" fill="#000"/>
<ellipse cx="458.9" cy="320.1" rx="2.35" ry="1.95" fill="#000"/>
<ellipse cx="464" cy="321.4" rx="2.35" ry="1.95" fill="#000"/>
<ellipse cx="453.2" cy="327.4" rx="2.35" ry="1.95" fill="#000"/>
<ellipse cx="458.9" cy="326.1" rx="2.35" ry="1.95" fill="#000"/>
<ellipse cx="453.2" cy="331.7" rx="2.35" ry="1.95" fill="#000"/>
<ellipse cx="458.9" cy="329.9" rx="2.35" ry="1.95" fill="#000"/>
<ellipse cx="464" cy="330.8" rx="2.35" ry="1.95" fill="#000"/>
<ellipse cx="457" cy="335.5" rx="2.35" ry="1.95" fill="#000"/>
<ellipse cx="458.9" cy="339.3" rx="2.35" ry="1.95" fill="#000"/>
</svg>
</body></html>
